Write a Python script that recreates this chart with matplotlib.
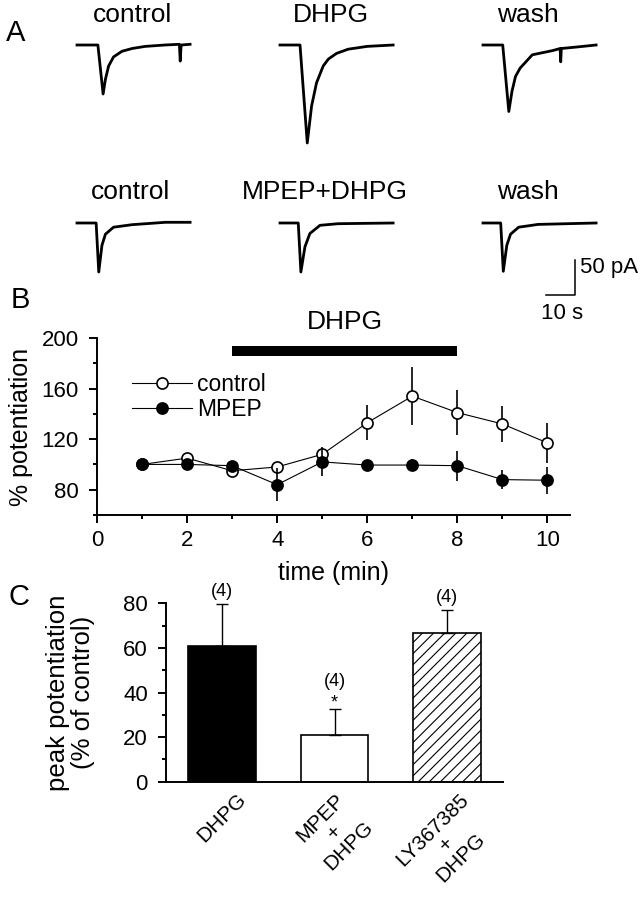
import matplotlib
matplotlib.use("Agg")
import matplotlib.pyplot as plt
from matplotlib.ticker import MultipleLocator

plt.rcParams['font.family'] = ['Liberation Sans', 'DejaVu Sans']
plt.rcParams['hatch.linewidth'] = 0.8

row1_titles = ["control", "DHPG", "wash"]
row2_titles = ["control", "MPEP+DHPG", "wash"]

ctrl1_t = [0, 7.2, 9.0, 9.8, 10.9, 12.6, 15.5, 19.0, 23.5, 30.3, 35.3, 35.6, 35.9, 39.0]
ctrl1_i = [0, 0, -70, -49, -30, -17, -9, -5, -2, 0, 1, -23, 0, 1]
dhpg1_t = [0, 6.9, 9.4, 10.9, 12.6, 14.9, 16.7, 19.5, 23.5, 30.0, 39.0]
dhpg1_i = [0, 0, -140, -87, -54, -30, -20, -12, -6, -2, 0]
wash1_t = [0, 6.8, 8.9, 10.0, 11.2, 12.8, 17.0, 24.0, 26.6, 26.8, 27.0, 32.0, 39.0]
wash1_i = [0, 0, -95, -66, -45, -33, -14, -8, -5, -24, -5, -3, 0]

ctrl2_t = [0, 6.6, 7.5, 8.6, 9.8, 12.6, 19.0, 30.5, 39.0]
ctrl2_i = [0, 0, -70, -32, -16, -6, -2.4, 1, 1]
mpep2_t = [0, 6.3, 7.2, 8.6, 10.3, 13.8, 20.0, 39.0]
mpep2_i = [0, 0, -70, -34, -15, -3.3, -1, 0]
wash2_t = [0, 6.1, 7.0, 8.2, 9.5, 12.3, 19.0, 39.0]
wash2_i = [0, 0, -69, -32, -16, -6, -2, 0]

scale_pA = 50
scale_s = 10

# ---------------- Panel B data ----------------
time_min = [1, 2, 3, 4, 5, 6, 7, 8, 9, 10]
control_mean = [100, 105, 95, 98, 108, 133, 154, 141, 132, 117]
control_sem = [2, 3, 3, 4, 6, 14, 23, 18, 14.5, 15.5]
mpep_mean = [100, 100, 99, 84, 102, 99.5, 99.5, 99, 88, 87.5]
mpep_sem = [3, 3, 3, 13, 11, 4, 5, 12, 7.5, 10.5]
dhpg_start, dhpg_end = 3, 8
dhpg_level = 190

# ---------------- Panel C data ----------------
c_labels = ["DHPG", "MPEP\n+\nDHPG", "LY367385\n+\nDHPG"]
c_values = [61, 21, 66.5]
c_errors = [18.5, 11.5, 10.5]
c_n = ["(4)", "(4)", "(4)"]
c_sig = ["", "*", ""]

W, H = 642, 900
fig = plt.figure(figsize=(W / 100, H / 100), dpi=100)

# ---------------- Panel A ----------------
PX_PER_S = 2.9
PX_PER_PA = 0.7
A_H = 320
axA = fig.add_axes([0, 1 - A_H / H, 1, A_H / H])
axA.set_xlim(0, W / PX_PER_S)
axA.set_ylim(-A_H / PX_PER_PA, 0)
axA.axis('off')

starts_px = [77, 280, 483]
row_base_px = [45, 223]
title_y_px = [15, 192]
title_x_px = [132, 331, 528]
title_x_px2 = [131, 325, 528]
rows = [[(ctrl1_t, ctrl1_i), (dhpg1_t, dhpg1_i), (wash1_t, wash1_i)],
        [(ctrl2_t, ctrl2_i), (mpep2_t, mpep2_i), (wash2_t, wash2_i)]]
for r, traces in enumerate(rows):
    for k, (t, i) in enumerate(traces):
        x0 = starts_px[k] / PX_PER_S
        y0 = -row_base_px[r] / PX_PER_PA
        axA.plot([x0 + v for v in t], [y0 + v for v in i], color='black',
                 lw=2.0, solid_joinstyle='round')
titles = [row1_titles, row2_titles]
txs = [title_x_px, title_x_px2]
for r in range(2):
    for k in range(3):
        axA.text(txs[r][k] / PX_PER_S, -title_y_px[r] / PX_PER_PA, titles[r][k],
                 ha='center', va='center', fontsize=19)

# scale bar
sb_x = 575 / PX_PER_S
sb_y = -295 / PX_PER_PA
axA.plot([sb_x - scale_s, sb_x, sb_x], [sb_y, sb_y, sb_y + scale_pA], color='black', lw=1.1)
axA.text(sb_x + 5 / PX_PER_S, sb_y + scale_pA * 0.8, f"{scale_pA} pA", ha='left', va='center', fontsize=16)
axA.text(sb_x - scale_s / 2 + 0.5, sb_y - 18 / PX_PER_PA, f"{scale_s} s", ha='center', va='center', fontsize=16)

# ---------------- Panel B ----------------
axB = fig.add_axes([97 / W, 1 - 515 / H, 473 / W, 177 / H])
axB.set_xlim(0, 10.5)
axB.set_ylim(60, 200)
for s in ['top', 'right']:
    axB.spines[s].set_visible(False)
for s in ['left', 'bottom']:
    axB.spines[s].set_linewidth(1.4)
axB.xaxis.set_major_locator(MultipleLocator(2))
axB.xaxis.set_minor_locator(MultipleLocator(1))
axB.yaxis.set_major_locator(MultipleLocator(40))
axB.yaxis.set_minor_locator(MultipleLocator(20))
axB.set_yticks([80, 120, 160, 200])
axB.tick_params(which='major', direction='out', length=6, width=1.4, labelsize=16, pad=5)
axB.tick_params(axis='y', which='major', pad=7)
axB.tick_params(which='minor', direction='out', length=3, width=1.4)
axB.set_xlabel("time (min)", fontsize=18, labelpad=7)
axB.set_ylabel("% potentiation", fontsize=18, labelpad=6)

axB.barh(dhpg_level, dhpg_end - dhpg_start, left=dhpg_start, height=8, color='black')
axB.text((dhpg_start + dhpg_end) / 2, 213, "DHPG", ha='center', va='center', fontsize=19, clip_on=False)

axB.errorbar(time_min, control_mean, yerr=control_sem, fmt='none', ecolor='black', elinewidth=1.2, zorder=2)
h1, = axB.plot(time_min, control_mean, '-o', color='black', lw=0.8, ms=8,
               mfc='white', mec='black', mew=1.2, zorder=3)
axB.errorbar(time_min, mpep_mean, yerr=mpep_sem, fmt='none', ecolor='black', elinewidth=1.2, zorder=4)
h2, = axB.plot(time_min, mpep_mean, '-o', color='black', lw=0.8, ms=8,
               mfc='black', mec='black', mew=1.2, zorder=5)
axB.legend([h1, h2], ["control", "MPEP"], loc='upper left', bbox_to_anchor=(0.074, 0.80),
           frameon=False, fontsize=16.5, handlelength=2.6, handletextpad=0.25,
           labelspacing=0.05, borderpad=0, borderaxespad=0, numpoints=1)

# ---------------- Panel C ----------------
axC = fig.add_axes([166 / W, 1 - 781.7 / H, 337 / W, 178.4 / H])
xpos = [1, 2, 3]
bars = axC.bar(xpos, c_values, width=0.6, color=['black', 'white', 'white'],
               edgecolor='black', linewidth=1.2)
bars[2].set_hatch('///')
axC.errorbar(xpos, c_values, yerr=[[0, 0, 0], c_errors], fmt='none', ecolor='black',
             elinewidth=1.0, capsize=4, capthick=1.0)
axC.set_xlim(0.5, 3.5)
axC.set_ylim(0, 80)
for s in ['top', 'right']:
    axC.spines[s].set_visible(False)
for s in ['left', 'bottom']:
    axC.spines[s].set_linewidth(1.4)
axC.yaxis.set_major_locator(MultipleLocator(20))
axC.yaxis.set_minor_locator(MultipleLocator(10))
axC.tick_params(axis='y', which='major', direction='out', length=6, width=1.4, labelsize=16, pad=7)
axC.tick_params(axis='y', which='minor', direction='out', length=3, width=1.4)
axC.set_xticks(xpos)
axC.set_xticklabels(c_labels, rotation=45, ha='center', va='top', multialignment='center',
                    fontsize=15, linespacing=1.05)
axC.tick_params(axis='x', length=0, pad=6)
axC.set_ylabel("peak potentiation\n(% of control)", fontsize=18.5, labelpad=20, linespacing=1.1)

for x, v, e, n, sig in zip(xpos, c_values, c_errors, c_n, c_sig):
    top = v + e
    if sig:
        axC.text(x, top + 3, sig, ha='center', va='center', fontsize=13, clip_on=False)
        axC.text(x, top + 12.5, n, ha='center', va='center', fontsize=13, clip_on=False)
    else:
        axC.text(x, top + 5.7, n, ha='center', va='center', fontsize=13, clip_on=False)

# panel letters
fig.text(16 / W, 1 - 33 / H, "A", fontsize=21, ha='center', va='center')
fig.text(20 / W, 1 - 300 / H, "B", fontsize=21, ha='center', va='center')
fig.text(19 / W, 1 - 597 / H, "C", fontsize=21, ha='center', va='center')

fig.savefig("out.png", dpi=100)
